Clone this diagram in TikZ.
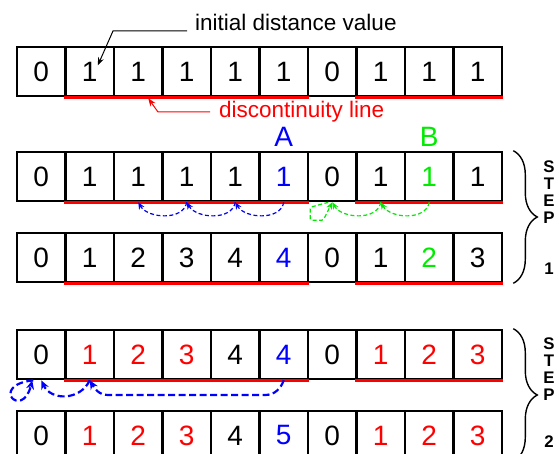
\documentclass[tikz,border=0pt]{standalone}
\usepackage{fontspec}
\setmainfont{Liberation Sans}
\usetikzlibrary{arrows.meta,decorations.pathreplacing}
\definecolor{stepgreen}{RGB}{0,235,0}
\begin{document}
\begin{tikzpicture}[x=1pt, y=-1pt,
    cell/.style={draw, line width=2.6pt, minimum width=48.5pt, minimum height=49pt, inner sep=0pt, font=\fontsize{28}{28}\selectfont},
    redline/.style={red, line width=3.4pt},
    note/.style={font=\fontsize{22.5}{24}\selectfont, inner sep=1pt, anchor=west},
    tag/.style={font=\fontsize{28}{28}\selectfont, inner sep=0pt, anchor=base},
    steptxt/.style={font=\bfseries\fontsize{16.8}{17}\selectfont, align=center, inner sep=0pt},
    brace/.style={decorate, decoration={brace, amplitude=24pt}, line width=1.4pt},
    hopblue/.style={blue, line width=1.2pt, dash pattern=on 4pt off 2.5pt, -{Stealth[length=7pt,width=6pt]}},
    hopgreen/.style={stepgreen, line width=1.2pt, dash pattern=on 4pt off 2.5pt, -{Stealth[length=7pt,width=6pt]}},
    jumpblue/.style={blue, line width=2.2pt, dash pattern=on 7pt off 3.5pt, -{Stealth[length=9pt,width=8pt]}},
  ]
    \useasboundingbox (0,0) rectangle (559,454);
    \foreach \v/\c [count=\i from 0] in {0/black,1/black,1/black,1/black,1/black,1/black,0/black,1/black,1/black,1/black}
      \node[cell, text=\c] (r1-\i) at (41.25+48.5*\i,71.5) {\v};
    \foreach \v/\c [count=\i from 0] in {0/black,1/black,1/black,1/black,1/black,1/blue,0/black,1/black,1/stepgreen,1/black}
      \node[cell, text=\c] (r2-\i) at (41.25+48.5*\i,176.5) {\v};
    \foreach \v/\c [count=\i from 0] in {0/black,1/black,2/black,3/black,4/black,4/blue,0/black,1/black,2/stepgreen,3/black}
      \node[cell, text=\c] (r3-\i) at (41.25+48.5*\i,257.5) {\v};
    \foreach \v/\c [count=\i from 0] in {0/black,1/red,2/red,3/red,4/black,4/blue,0/black,1/red,2/red,3/red}
      \node[cell, text=\c] (r4-\i) at (41.25+48.5*\i,354.5) {\v};
    \foreach \v/\c [count=\i from 0] in {0/black,1/red,2/red,3/red,4/black,5/blue,0/black,1/red,2/red,3/red}
      \node[cell, text=\c] (r5-\i) at (41.25+48.5*\i,435.5) {\v};
    \foreach \r in {1,...,5} {
      \draw[redline] (r\r-1.south west) -- (r\r-5.south east);
      \draw[redline] (r\r-7.south west) -- (r\r-9.south east);
    }
    \node[note] (initlbl) at (194,22) {initial distance value};
    \node[note, text=red] (disclbl) at (218,112) {discontinuity line};
    \draw[line width=1pt, -{Stealth[length=8pt,width=6pt]}] ([xshift=-7pt,yshift=-9pt]initlbl.west) -- ++(-74,0) -- ([xshift=8pt,yshift=6pt]r1-1.center);
    \draw[red, line width=1pt, -{Stealth[length=8pt,width=6pt]}] ([xshift=-8pt]disclbl.west) -- ++(-52,0) -- ([xshift=10pt,yshift=-1pt]r1-2.south);
    \node[tag, text=blue] (lblA) at (283.75,147) {A};
    \node[tag, text=stepgreen] (lblB) at (429.25,147) {B};
    \draw[hopblue] (r2-5.south) to[out=-100,in=-60] (r2-4.south);
    \draw[hopblue] (r2-4.south) to[out=-100,in=-60] (r2-3.south);
    \draw[hopblue] (r2-3.south) to[out=-100,in=-60] (r2-2.south);
    \draw[hopgreen] (r2-8.south) to[out=-100,in=-60] (r2-7.south);
    \draw[hopgreen] (r2-7.south) to[out=-100,in=-60] (r2-6.south);
    \draw[hopgreen, rounded corners=1.5pt] ([xshift=-4pt]r2-6.south) -- ++(-18,5) -- ++(0,13) -- ++(13,0) -- (r2-6.south);
    \coordinate (lowA) at (265,395);
    \coordinate (lowB) at (108,395);
    \draw[jumpblue] (r4-5.south) to[out=-110,in=0] (lowA) -- (lowB) to[out=180,in=-60] (r4-1.south);
    \draw[jumpblue] (r4-1.south) to[out=-115,in=-65,looseness=1.2] (r4-0.south);
    \draw[jumpblue] ([xshift=-8pt]r4-0.south) .. controls +(-45,5) and +(-10,40) .. ([xshift=-9pt]r4-0.south);
    \draw[brace] ([xshift=10pt]r2-9.north east) -- ([xshift=10pt]r3-9.south east);
    \draw[brace] ([xshift=10pt]r4-9.north east) -- ([xshift=10pt]r5-9.south east);
    \node[steptxt] (step1) at (549,217.5) {S\\T\\E\\P\\[34pt]1};
    \node[steptxt] (step2) at (549,393) {S\\T\\E\\P\\[30pt]2};
  \end{tikzpicture}
\end{document}
